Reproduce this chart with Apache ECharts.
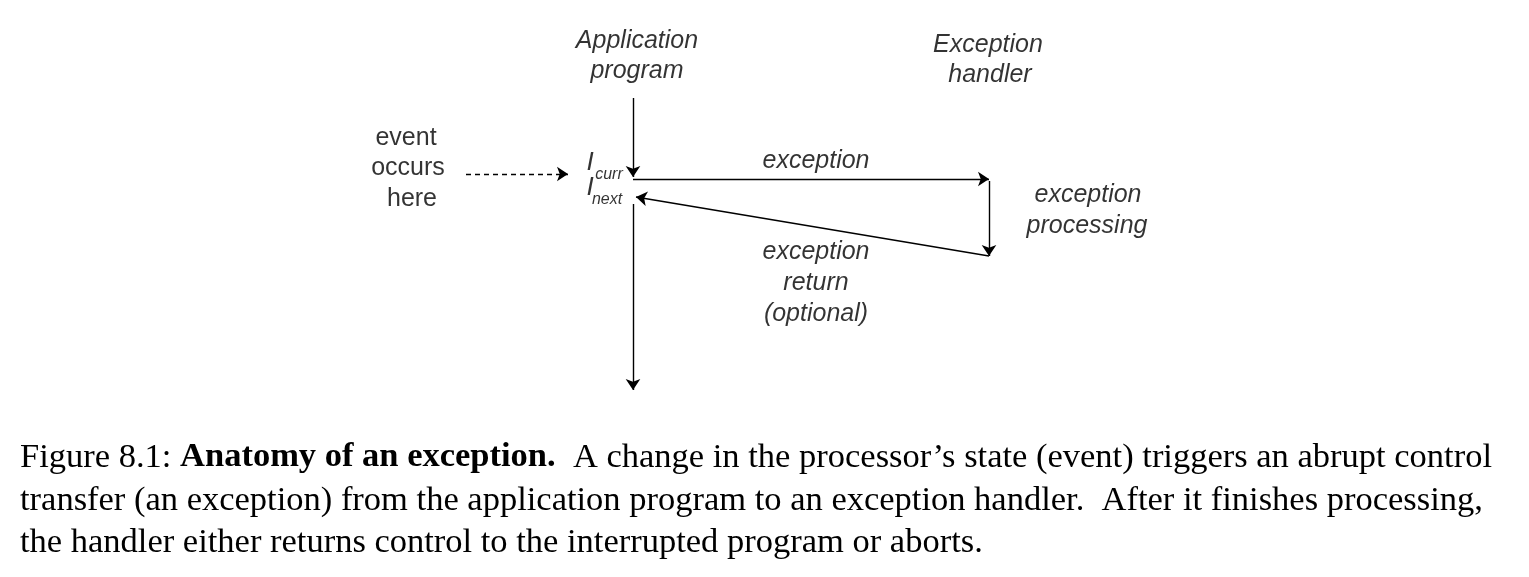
<!DOCTYPE html>
<html><head><meta charset="utf-8">
<script src="https://cdn.jsdelivr.net/npm/echarts@6/dist/echarts.min.js"></script>
<style>html,body{margin:0;background:#fff}#main{width:1529px;height:577px}</style>
</head><body><div id="main"></div>
<script>
// arrows: [from, to, dashed]
var arrows = [
  [[633, 98], [633, 177], false],
  [[633, 179], [989, 179], false],
  [[989, 181], [989, 256], false],
  [[989, 256], [636, 197], false],
  [[633, 204], [633, 390], false],
  [[466, 174], [568, 174], true]
];
// diagram labels: [x, y, text, italic, size]
var labels = [
  [637, 41, 'Application', true, 25], [637, 71, 'program', true, 25],
  [988, 45, 'Exception', true, 25], [990, 75, 'handler', true, 25],
  [406, 138, 'event', false, 25], [408, 168, 'occurs', false, 25], [412, 199, 'here', false, 25],
  [816, 161, 'exception', true, 25],
  [1088, 195, 'exception', true, 25], [1087, 226, 'processing', true, 25],
  [816, 252, 'exception', true, 25], [816, 283, 'return', true, 25], [816, 314, '(optional)', true, 25],
  [590, 163, 'I', true, 26], [609, 175, 'curr', true, 16],
  [590, 188, 'I', true, 26], [607, 200, 'next', true, 16]
];
var captionLines = [
  ['Figure 8.1: ', 'Anatomy of an exception.', '  A change in the processor\u2019s state (event) triggers an abrupt control'],
  ['transfer (an exception) from the application program to an exception handler.  After it finishes processing,', '', ''],
  ['the handler either returns control to the interrupted program or aborts.', '', '']
];
var captionY = [460, 503, 545];

var chart = echarts.init(document.getElementById('main'));
chart.setOption({
  animation: false,
  grid: {left: 0, right: 0, top: 0, bottom: 0},
  xAxis: {type: 'value', min: 0, max: 1529, show: false},
  yAxis: {type: 'value', min: 0, max: 577, inverse: true, show: false},
  series: [{
    type: 'lines', coordinateSystem: 'cartesian2d',
    symbol: ['none', 'arrow'], symbolSize: 11,
    data: arrows.map(function (a) {
      return {coords: [a[0], a[1]], lineStyle: {type: a[2] ? [5, 4] : 'solid'}};
    }),
    lineStyle: {color: '#000', width: 1.4, opacity: 1}
  }, {
    type: 'scatter', symbolSize: 0, silent: true,
    data: labels.map(function (l) {
      return {value: [l[0], l[1]], label: {show: true, position: 'inside', formatter: l[2],
        fontStyle: l[3] ? 'italic' : 'normal', fontSize: l[4], color: '#000',
        textBorderWidth: 0, fontFamily: 'Liberation Sans'}};
    })
  }],
  graphic: captionLines.map(function (c, i) {
    return {type: 'text', left: 20, top: captionY[i] - 20, style: {
      text: '{n|' + c[0] + '}' + (c[1] ? '{b|' + c[1] + '}' : '') + (c[2] ? '{n|' + c[2] + '}' : ''),
      rich: {
        n: {fontFamily: 'Liberation Serif', fontSize: 34.5, fill: '#000'},
        b: {fontFamily: 'Liberation Serif', fontSize: 34.5, fontWeight: 'bold', fill: '#000'}
      }}};
  })
});
</script></body></html>
